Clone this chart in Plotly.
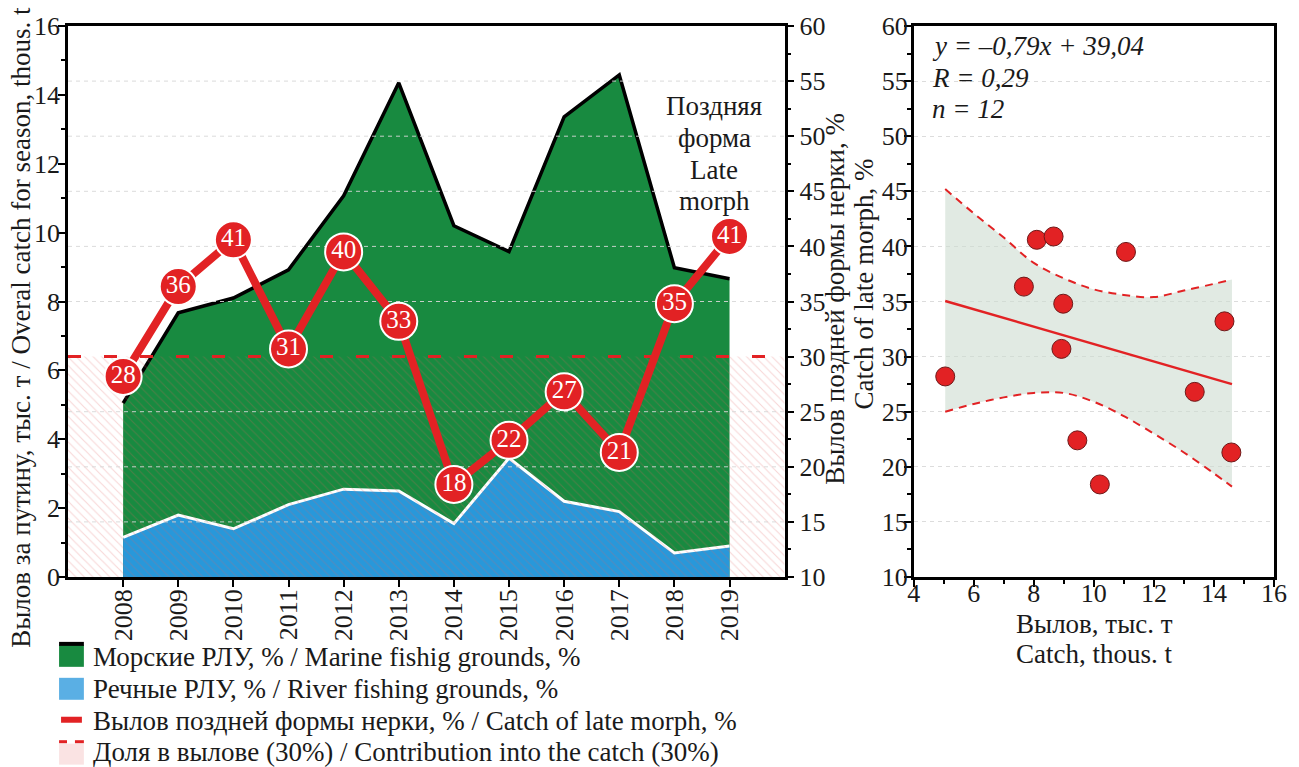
import plotly.graph_objects as go

# ---------------- data ----------------
years = [2008, 2009, 2010, 2011, 2012, 2013, 2014, 2015, 2016, 2017, 2018, 2019]
total_catch = [5.05, 7.67, 8.1, 8.92, 11.07, 14.35, 10.2, 9.45, 13.36, 14.58, 8.98, 8.66]
river_catch = [1.15, 1.8, 1.4, 2.1, 2.55, 2.5, 1.55, 3.45, 2.2, 1.9, 0.7, 0.9]
late_share = [28.2, 36.35, 40.6, 30.7, 39.5, 33.2, 18.4, 22.4, 26.8, 21.3, 34.8, 40.9]
late_labels = ["28", "36", "41", "31", "40", "33", "18", "22", "27", "21", "35", "41"]
threshold_pct = 30
threshold_thous = 6.4
year_range = [2007, 2020]

reg_slope = -0.79
reg_intercept = 39.04
reg_x = [5.05, 14.6]

band_x = [5.05, 6, 7, 8, 9, 10, 11, 12, 13, 14, 14.6]
band_upper = [45.2, 43.0, 40.8, 38.5, 37.1, 36.1, 35.6, 35.4, 36.0, 36.6, 37.0]
band_lower = [25.0, 25.7, 26.3, 26.7, 26.7, 25.9, 24.6, 23.0, 21.3, 19.4, 18.2]

grid_vals = [15, 20, 25, 35, 40, 45, 50, 55]

# ---------------- styling ----------------
FONT = "Liberation Serif"
TXT = "#1a1a1a"
GREEN = "rgb(24,138,64)"
BLUE = "rgb(40,152,218)"
RED = "rgb(226,34,36)"
TS = 27  # text size
KS = 26  # tick size

L, T, R_END, B = 68, 25, 1283, 577
W, H = R_END - L, B - T


def px(x):
    return (x - L) / W


def py(y):
    return (B - y) / H


fig = go.Figure()

# marine (total) area
fig.add_trace(go.Scatter(x=years, y=total_catch, mode="lines", fill="tozeroy",
                         fillcolor=GREEN, line=dict(color="black", width=3.5),
                         xaxis="x", yaxis="y", showlegend=False, hoverinfo="skip"))
# river area
fig.add_trace(go.Scatter(x=years, y=river_catch, mode="lines", fill="tozeroy",
                         fillcolor=BLUE, line=dict(color="white", width=3),
                         xaxis="x", yaxis="y", showlegend=False, hoverinfo="skip"))
# hatched contribution zone
fig.add_trace(go.Scatter(x=year_range, y=[threshold_thous, threshold_thous], mode="lines",
                         fill="tozeroy", fillcolor="rgba(0,0,0,0)",
                         fillpattern=dict(shape="\\", fgcolor="rgba(225,95,95,0.5)",
                                          bgcolor="rgba(0,0,0,0)", size=6, solidity=0.18),
                         line=dict(width=0), xaxis="x", yaxis="y",
                         showlegend=False, hoverinfo="skip"))
# gridlines of right axis (drawn above areas)
gx, gy = [], []
for v in grid_vals:
    gx += [year_range[0], year_range[1], None]
    gy += [v, v, None]
fig.add_trace(go.Scatter(x=gx, y=gy, mode="lines",
                         line=dict(color="rgba(215,215,215,0.9)", width=1, dash="4px,4px"),
                         xaxis="x", yaxis="y2", showlegend=False, hoverinfo="skip"))
# threshold line
fig.add_trace(go.Scatter(x=year_range, y=[threshold_pct, threshold_pct], mode="lines",
                         line=dict(color=RED, width=3, dash="13px,23px"),
                         xaxis="x", yaxis="y2", showlegend=False, hoverinfo="skip"))
# late morph share line
fig.add_trace(go.Scatter(x=years, y=late_share, mode="lines",
                         line=dict(color=RED, width=8),
                         xaxis="x", yaxis="y2", showlegend=False, hoverinfo="skip"))
fig.add_trace(go.Scatter(x=years, y=late_share, mode="markers+text", text=late_labels,
                         textposition="middle center",
                         textfont=dict(family=FONT, size=25, color="white"),
                         marker=dict(size=37, color=RED, line=dict(color="white", width=2)),
                         xaxis="x", yaxis="y2", showlegend=False, hoverinfo="skip"))

# ---------- right chart ----------
fig.add_trace(go.Scatter(x=band_x, y=band_lower, mode="lines", line_shape="spline",
                         line=dict(color=RED, width=2, dash="8px,6px"),
                         xaxis="x2", yaxis="y3", showlegend=False, hoverinfo="skip"))
fig.add_trace(go.Scatter(x=band_x, y=band_upper, mode="lines", line_shape="spline",
                         fill="tonexty", fillcolor="rgba(205,220,208,0.6)",
                         line=dict(color=RED, width=2, dash="8px,6px"),
                         xaxis="x2", yaxis="y3", showlegend=False, hoverinfo="skip"))
fig.add_trace(go.Scatter(x=reg_x, y=[reg_slope * x + reg_intercept for x in reg_x],
                         mode="lines", line=dict(color=RED, width=2.5),
                         xaxis="x2", yaxis="y3", showlegend=False, hoverinfo="skip"))
fig.add_trace(go.Scatter(x=total_catch, y=late_share, mode="markers",
                         marker=dict(size=19, color=RED, line=dict(color="rgb(110,25,25)", width=1)),
                         xaxis="x2", yaxis="y3", showlegend=False, hoverinfo="skip"))

tickfont = dict(family=FONT, size=KS, color=TXT)
axis_common = dict(showline=True, linecolor="black", linewidth=2.5, ticks="outside",
                   tickcolor="black", tickwidth=2, ticklen=7, tickfont=tickfont,
                   zeroline=False, showgrid=False)
minor_common = dict(ticks="outside", ticklen=4, tickwidth=1.5, tickcolor="black", showgrid=False)

fig.update_layout(
    width=1299, height=767,
    margin=dict(l=L, r=1299 - R_END, t=T, b=767 - B),
    paper_bgcolor="white", plot_bgcolor="rgba(0,0,0,0)",
    font=dict(family=FONT, color=TXT, size=KS),
    showlegend=False,
    xaxis=dict(domain=[0, px(790)], range=year_range, tickvals=years,
               ticktext=[str(y) for y in years], tickangle=-90, mirror=True,
               anchor="y", ticklabelstandoff=-8, **axis_common),
    yaxis=dict(range=[0, 16], dtick=2, anchor="x", ticklabelstandoff=-7,
               minor=dict(dtick=1, **minor_common), **axis_common),
    yaxis2=dict(range=[10, 60], dtick=5, overlaying="y", side="right", anchor="x",
                minor=dict(dtick=2.5, **minor_common), **axis_common),
    xaxis2=dict(domain=[px(920), 1], range=[4, 16], dtick=2, anchor="y3", mirror=True,
                ticklabelstandoff=-16,
                minor=dict(dtick=1, **minor_common), **axis_common),
    yaxis3=dict(range=[10, 60], dtick=5, anchor="x2", mirror=True, ticklabelstandoff=-9,
                minor=dict(dtick=2.5, **minor_common),
                **{**axis_common, "showgrid": True, "gridcolor": "#dcdcdc",
                   "griddash": "4px,4px", "gridwidth": 1}),
)

ann = []


def add_text(text, x, y, size=TS, xanchor="center", angle=0):
    ann.append(dict(text=text, x=px(x), y=py(y), xref="paper", yref="paper",
                    xanchor=xanchor, yanchor="middle", textangle=angle,
                    showarrow=False, font=dict(family=FONT, size=size, color=TXT)))


add_text("Вылов за путину, тыс. т / Overal catch for season, thous. t", 21, 327, size=27, angle=-90)
add_text("Вылов поздней формы нерки, %", 840, 298, angle=-90)
add_text("Catch of late morph, %", 869, 284, angle=-90)
for txt, yy in zip(["Поздняя", "форма", "Late", "morph"], [105, 137, 169, 200]):
    add_text(txt, 719, yy)
for txt, yy in zip(["<i>y = –0,79x + 39,04</i>", "<i>R = 0,29</i>", "<i>n = 12</i>"], [45, 77, 108]):
    add_text(txt, 936, yy, xanchor="left")
add_text("Вылов, тыс. т", 1102, 624)
add_text("Catch, thous. t", 1102, 654)

# manual legend
legend_items = [
    "Морские РЛУ, % / Marine fishig grounds, %",
    "Речные РЛУ, % / River fishing grounds, %",
    "Вылов поздней формы нерки, % / Catch of late morph, %",
    "Доля в вылове (30%) / Contribution into the catch (30%)",
]
row_y = [657, 689, 721, 752]
for txt, yc in zip(legend_items, row_y):
    add_text(txt, 91, yc, xanchor="left")

shapes = [
    dict(type="rect", xref="paper", yref="paper", x0=px(59), x1=px(84), y0=py(667), y1=py(645),
         fillcolor=GREEN, line=dict(width=0)),
    dict(type="line", xref="paper", yref="paper", x0=px(59), x1=px(84), y0=py(644), y1=py(644),
         line=dict(color="black", width=4)),
    dict(type="rect", xref="paper", yref="paper", x0=px(59), x1=px(84), y0=py(700), y1=py(678),
         fillcolor="rgb(90,175,228)", line=dict(width=0)),
    dict(type="line", xref="paper", yref="paper", x0=px(61), x1=px(82), y0=py(720), y1=py(720),
         line=dict(color=RED, width=6)),
    dict(type="rect", xref="paper", yref="paper", x0=px(59), x1=px(84), y0=py(765), y1=py(744),
         fillcolor="rgba(245,200,200,0.5)", line=dict(width=0)),
    dict(type="line", xref="paper", yref="paper", x0=px(59), x1=px(67), y0=py(742), y1=py(742),
         line=dict(color=RED, width=3)),
    dict(type="line", xref="paper", yref="paper", x0=px(75), x1=px(84), y0=py(742), y1=py(742),
         line=dict(color=RED, width=3)),
]

fig.update_layout(annotations=ann, shapes=shapes)
fig.write_html("out.html")
